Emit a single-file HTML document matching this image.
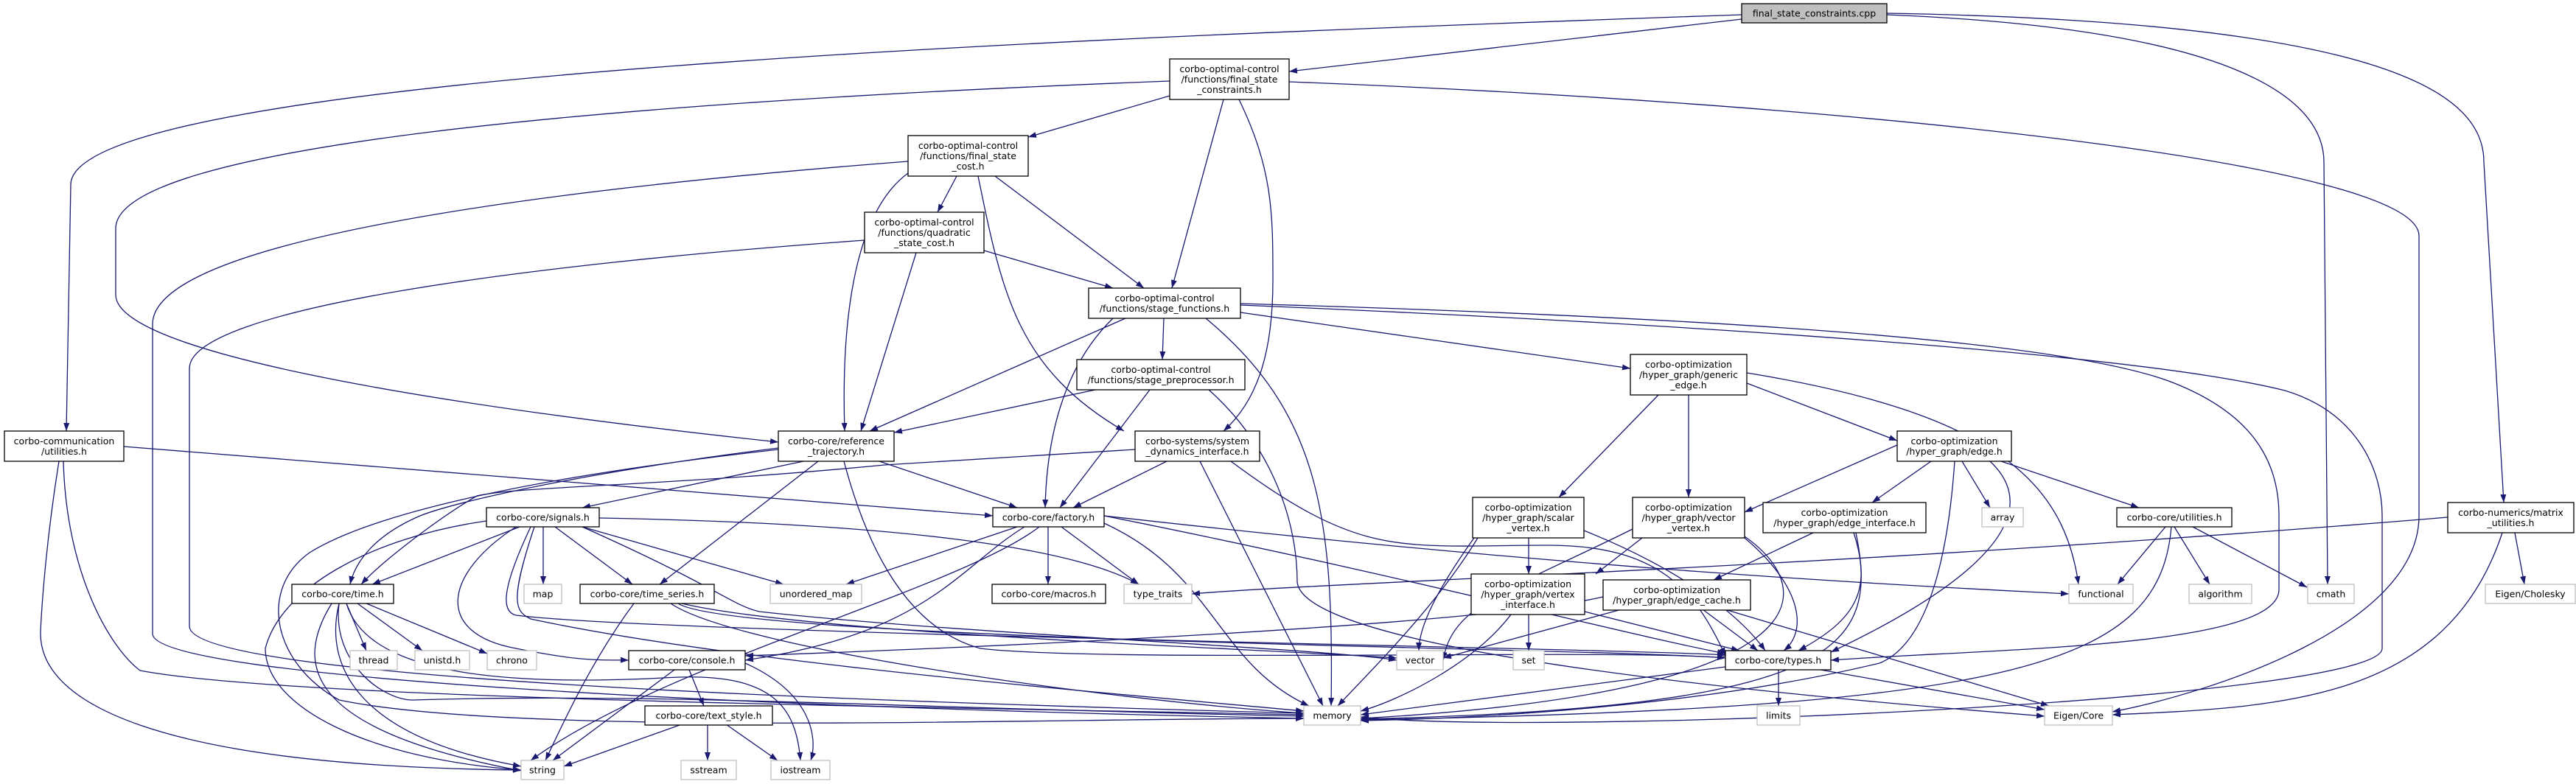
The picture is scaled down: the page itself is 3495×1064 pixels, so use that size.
<!DOCTYPE html>
<html><head><meta charset="utf-8"><style>
html,body{margin:0;padding:0;background:#fff;}
svg{display:block;}
text{font-family:"DejaVu Sans","Liberation Sans",sans-serif;font-size:12.5px;fill:#000;}
.e{fill:none;stroke:#191970;stroke-width:1.3;marker-end:url(#a);}
.n{fill:#fff;stroke:#000;stroke-width:1.3;}
.g{fill:#fff;stroke:#bfbfbf;stroke-width:1.3;}
.r{fill:#bfbfbf;stroke:#000;stroke-width:1.3;}
</style></head><body>
<svg width="3495" height="1064" viewBox="0 0 3495 1064" xmlns="http://www.w3.org/2000/svg">
<defs><marker id="a" markerWidth="12" markerHeight="10" refX="11" refY="5" orient="auto" markerUnits="userSpaceOnUse"><path d="M0,1 L11,5 L0,9 z" fill="#191970"/></marker></defs>
<g>
<path class="e" d="M2363,26 L1749,97"/>
<path class="e" d="M2363,20 C1500,50 100,100 96,250 L90,585"/>
<path class="e" d="M2560,20 C3050,40 3153,140 3153,220 L3158,793"/>
<path class="e" d="M2560,18 C3250,30 3370,130 3370,220 L3397,682"/>
<path class="e" d="M1587,130 L1395,186"/>
<path class="e" d="M1660,135 L1590,391"/>
<path class="e" d="M1681,135 C1727,230 1727,290 1727,380 C1727,470 1710,540 1660,585"/>
<path class="e" d="M1587,110 C800,140 157,200 157,310 L157,400 C157,470 500,540 1056,600"/>
<path class="e" d="M1749,111 C2500,140 3282,220 3282,320 L3282,700 C3282,850 3000,940 2866,966"/>
<path class="e" d="M1298,239 L1272,288"/>
<path class="e" d="M1350,239 L1552,391"/>
<path class="e" d="M1232,235 C1170,280 1140,400 1146,585"/>
<path class="e" d="M1232,219 C700,260 207,330 207,440 L207,860 C207,920 1000,960 1769,975"/>
<path class="e" d="M1327,239 C1360,400 1380,500 1525,585"/>
<path class="e" d="M1335,340 L1510,391"/>
<path class="e" d="M1243,343 L1168,585"/>
<path class="e" d="M1173,326 C700,360 257,420 257,500 L257,850 C257,920 1100,950 1769,968"/>
<path class="e" d="M1579,432 L1577,488"/>
<path class="e" d="M1527,432 L1180,585"/>
<path class="e" d="M1510,432 C1440,500 1420,600 1418,689"/>
<path class="e" d="M1683,424 L2212,500"/>
<path class="e" d="M1636,432 C1790,560 1810,700 1806,958"/>
<path class="e" d="M1683,412 C2300,430 2800,460 2950,520 C3050,560 3092,620 3092,700 L3092,800 C3092,880 2700,880 2484,896"/>
<path class="e" d="M1683,414 C2300,440 2900,480 3100,530 C3200,560 3232,640 3232,700 L3232,880 C3232,950 2100,1000 1846,973"/>
<path class="e" d="M1486,529 L1213,587"/>
<path class="e" d="M1560,529 L1438,689"/>
<path class="e" d="M1640,529 C1720,600 1760,700 1760,790 C1770,890 2500,950 2774,972"/>
<path class="e" d="M1583,626 L1456,689"/>
<path class="e" d="M1628,626 L1795,958"/>
<path class="e" d="M1670,626 C1850,760 1900,740 2100,740 C2250,740 2300,800 2341,890"/>
<path class="e" d="M1540,610 L1200,631 C900,660 700,660 647,673 C600,700 520,760 490,793"/>
<path class="e" d="M1090,626 L790,689"/>
<path class="e" d="M1056,608 C800,640 620,680 570,700 C500,730 480,770 475,793"/>
<path class="e" d="M1110,626 L895,793"/>
<path class="e" d="M1193,626 L1380,689"/>
<path class="e" d="M1145,626 C1170,720 1220,850 1330,880 C1500,900 2200,880 2341,893"/>
<path class="e" d="M1056,610 C700,650 500,700 420,750 C350,800 370,900 460,950 C700,1000 1400,975 1769,975"/>
<path class="e" d="M168,606 L1347,700"/>
<path class="e" d="M80,626 C60,750 55,850 55,860 C55,950 200,1040 707,1045"/>
<path class="e" d="M86,626 C90,780 150,880 190,910 C400,950 1300,960 1769,970"/>
<path class="e" d="M705,715 L505,793"/>
<path class="e" d="M737,715 L737,793"/>
<path class="e" d="M753,715 L858,793"/>
<path class="e" d="M790,715 L1063,793"/>
<path class="e" d="M813,703 C1200,710 1450,740 1545,793"/>
<path class="e" d="M660,707 C500,730 380,800 360,880 C360,960 500,1030 707,1045"/>
<path class="e" d="M700,715 C600,780 590,860 700,880 C800,900 820,895 853,896"/>
<path class="e" d="M720,715 C680,800 680,830 700,835 C900,860 2200,880 2341,889"/>
<path class="e" d="M725,715 C690,820 700,830 720,840 C1000,900 1500,940 1769,965"/>
<path class="e" d="M790,715 C980,800 990,820 1030,830 C1300,860 1800,880 1895,896"/>
<path class="e" d="M470,819 L497,883"/>
<path class="e" d="M485,819 L573,883"/>
<path class="e" d="M497,819 L661,887"/>
<path class="e" d="M450,819 C400,900 410,990 707,1046"/>
<path class="e" d="M460,819 C440,900 480,1000 707,1040"/>
<path class="e" d="M460,819 C450,900 520,950 560,950 C900,940 1200,960 1769,972"/>
<path class="e" d="M470,819 C500,920 700,930 900,920 C1050,910 1080,960 1086,1032"/>
<path class="e" d="M860,819 C800,900 760,990 740,1032"/>
<path class="e" d="M920,819 C1000,870 2200,880 2341,893"/>
<path class="e" d="M925,819 C1100,860 1700,880 1895,893"/>
<path class="e" d="M910,819 C1000,880 1500,950 1769,968"/>
<path class="e" d="M1380,715 L1148,793"/>
<path class="e" d="M1422,715 L1422,793"/>
<path class="e" d="M1440,715 L1545,793"/>
<path class="e" d="M1390,715 C1300,770 1260,860 1011,896"/>
<path class="e" d="M1410,715 C1300,800 900,900 720,1032"/>
<path class="e" d="M1498,710 C1650,780 1650,900 1776,958"/>
<path class="e" d="M1498,700 C1900,780 2200,860 2341,887"/>
<path class="e" d="M1498,700 C2200,780 2700,800 2807,806"/>
<path class="e" d="M935,909 L955,958"/>
<path class="e" d="M915,909 L750,1032"/>
<path class="e" d="M1011,900 C1100,940 1110,1000 1100,1032"/>
<path class="e" d="M925,983 L765,1040"/>
<path class="e" d="M960,983 L960,1032"/>
<path class="e" d="M985,983 L1055,1032"/>
<path class="e" d="M2074,730 L2074,779"/>
<path class="e" d="M2000,730 C1950,800 1925,850 1925,883"/>
<path class="e" d="M2005,730 C1950,820 1870,900 1815,958"/>
<path class="e" d="M2149,720 C2250,760 2350,820 2395,883"/>
<path class="e" d="M2228,730 L2165,779"/>
<path class="e" d="M2215,718 C2050,800 1970,820 1958,896"/>
<path class="e" d="M2367,730 C2450,800 2450,860 2420,883"/>
<path class="e" d="M2367,728 C2470,800 2480,940 1846,975"/>
<path class="e" d="M2074,834 L2074,883"/>
<path class="e" d="M2050,834 C2000,900 1900,950 1846,965"/>
<path class="e" d="M2150,830 L2360,883"/>
<path class="e" d="M2200,827 L1958,893"/>
<path class="e" d="M2310,827 L2385,883"/>
<path class="e" d="M2340,827 L2780,958"/>
<path class="e" d="M2175,810 C2000,850 1300,880 1011,890"/>
<path class="e" d="M2460,723 L2325,787"/>
<path class="e" d="M2515,723 C2540,800 2520,840 2440,883"/>
<path class="e" d="M2518,723 C2550,880 2500,960 1846,976"/>
<path class="e" d="M2250,536 L2115,675"/>
<path class="e" d="M2291,536 L2291,675"/>
<path class="e" d="M2370,520 L2574,598"/>
<path class="e" d="M2370,506 C2700,560 2800,650 2820,793"/>
<path class="e" d="M2574,604 L2367,695"/>
<path class="e" d="M2620,626 L2540,682"/>
<path class="e" d="M2662,626 L2700,689"/>
<path class="e" d="M2715,626 L2902,689"/>
<path class="e" d="M2700,626 C2800,720 2600,830 2484,885"/>
<path class="e" d="M2652,626 C2640,800 2600,880 2550,900 C2300,960 2000,975 1846,978"/>
<path class="e" d="M2938,715 L2873,793"/>
<path class="e" d="M2950,715 L2998,793"/>
<path class="e" d="M2975,715 L3130,797"/>
<path class="e" d="M2946,715 C2930,900 2750,960 1846,977"/>
<path class="e" d="M3321,702 C2500,770 1800,790 1617,806"/>
<path class="e" d="M3412,723 L3425,793"/>
<path class="e" d="M3395,723 C3320,950 3100,960 2866,970"/>
<path class="e" d="M2341,905 L1846,970"/>
<path class="e" d="M2413,909 L2413,958"/>
<path class="e" d="M2470,909 L2774,963"/>
</g>
<g text-anchor="middle">
<rect class="r" x="2363" y="5" width="197" height="26"/><text x="2461.5" y="22.5">final_state_constraints.cpp</text>
<rect class="n" x="1587" y="80" width="162" height="55"/><text x="1668" y="98">corbo-optimal-control</text><text x="1668" y="112">/functions/final_state</text><text x="1668" y="126">_constraints.h</text>
<rect class="n" x="1232" y="184" width="163" height="55"/><text x="1313.5" y="202">corbo-optimal-control</text><text x="1313.5" y="216">/functions/final_state</text><text x="1313.5" y="230">_cost.h</text>
<rect class="n" x="1173" y="288" width="162" height="55"/><text x="1254" y="306">corbo-optimal-control</text><text x="1254" y="320">/functions/quadratic</text><text x="1254" y="334">_state_cost.h</text>
<rect class="n" x="1477" y="391" width="206" height="41"/><text x="1580" y="409">corbo-optimal-control</text><text x="1580" y="423">/functions/stage_functions.h</text>
<rect class="n" x="1461" y="488" width="228" height="41"/><text x="1575" y="506">corbo-optimal-control</text><text x="1575" y="520">/functions/stage_preprocessor.h</text>
<rect class="n" x="2212" y="481" width="158" height="55"/><text x="2291" y="499">corbo-optimization</text><text x="2291" y="513">/hyper_graph/generic</text><text x="2291" y="527">_edge.h</text>
<rect class="n" x="6" y="585" width="162" height="41"/><text x="87" y="603">corbo-communication</text><text x="87" y="617">/utilities.h</text>
<rect class="n" x="1056" y="585" width="157" height="41"/><text x="1134.5" y="603">corbo-core/reference</text><text x="1134.5" y="617">_trajectory.h</text>
<rect class="n" x="1540" y="585" width="169" height="41"/><text x="1624.5" y="603">corbo-systems/system</text><text x="1624.5" y="617">_dynamics_interface.h</text>
<rect class="n" x="2574" y="585" width="155" height="41"/><text x="2651.5" y="603">corbo-optimization</text><text x="2651.5" y="617">/hyper_graph/edge.h</text>
<rect class="n" x="660" y="689" width="153" height="26"/><text x="736.5" y="706.5">corbo-core/signals.h</text>
<rect class="n" x="1347" y="689" width="151" height="26"/><text x="1422.5" y="706.5">corbo-core/factory.h</text>
<rect class="n" x="1998" y="675" width="151" height="55"/><text x="2073.5" y="693">corbo-optimization</text><text x="2073.5" y="707">/hyper_graph/scalar</text><text x="2073.5" y="721">_vertex.h</text>
<rect class="n" x="2215" y="675" width="152" height="55"/><text x="2291" y="693">corbo-optimization</text><text x="2291" y="707">/hyper_graph/vector</text><text x="2291" y="721">_vertex.h</text>
<rect class="n" x="2392" y="682" width="221" height="41"/><text x="2502.5" y="700">corbo-optimization</text><text x="2502.5" y="714">/hyper_graph/edge_interface.h</text>
<rect class="g" x="2689" y="689" width="56" height="26"/><text x="2717" y="706.5">array</text>
<rect class="n" x="2872" y="689" width="156" height="26"/><text x="2950" y="706.5">corbo-core/utilities.h</text>
<rect class="n" x="3321" y="682" width="171" height="41"/><text x="3406.5" y="700">corbo-numerics/matrix</text><text x="3406.5" y="714">_utilities.h</text>
<rect class="n" x="396" y="793" width="138" height="26"/><text x="465" y="810.5">corbo-core/time.h</text>
<rect class="g" x="711" y="793" width="51" height="26"/><text x="736.5" y="810.5">map</text>
<rect class="n" x="787" y="793" width="182" height="26"/><text x="878" y="810.5">corbo-core/time_series.h</text>
<rect class="g" x="1045" y="793" width="124" height="26"/><text x="1107" y="810.5">unordered_map</text>
<rect class="n" x="1346" y="793" width="154" height="26"/><text x="1423" y="810.5">corbo-core/macros.h</text>
<rect class="g" x="1525" y="793" width="92" height="26"/><text x="1571" y="810.5">type_traits</text>
<rect class="n" x="1996" y="779" width="154" height="55"/><text x="2073" y="797">corbo-optimization</text><text x="2073" y="811">/hyper_graph/vertex</text><text x="2073" y="825">_interface.h</text>
<rect class="n" x="2175" y="787" width="200" height="41"/><text x="2275" y="805">corbo-optimization</text><text x="2275" y="819">/hyper_graph/edge_cache.h</text>
<rect class="g" x="2807" y="793" width="87" height="26"/><text x="2850.5" y="810.5">functional</text>
<rect class="g" x="2970" y="793" width="85" height="26"/><text x="3012.5" y="810.5">algorithm</text>
<rect class="g" x="3131" y="793" width="63" height="26"/><text x="3162.5" y="810.5">cmath</text>
<rect class="g" x="3372" y="793" width="122" height="26"/><text x="3433" y="810.5">Eigen/Cholesky</text>
<rect class="g" x="475" y="883" width="64" height="26"/><text x="507" y="900.5">thread</text>
<rect class="g" x="563" y="883" width="74" height="26"/><text x="600" y="900.5">unistd.h</text>
<rect class="g" x="661" y="883" width="67" height="26"/><text x="694.5" y="900.5">chrono</text>
<rect class="n" x="853" y="883" width="158" height="26"/><text x="932" y="900.5">corbo-core/console.h</text>
<rect class="g" x="1895" y="883" width="63" height="26"/><text x="1926.5" y="900.5">vector</text>
<rect class="g" x="2053" y="883" width="42" height="26"/><text x="2074" y="900.5">set</text>
<rect class="n" x="2341" y="883" width="143" height="26"/><text x="2412.5" y="900.5">corbo-core/types.h</text>
<rect class="n" x="875" y="958" width="173" height="26"/><text x="961.5" y="975.5">corbo-core/text_style.h</text>
<rect class="g" x="1769" y="958" width="77" height="26"/><text x="1807.5" y="975.5">memory</text>
<rect class="g" x="2384" y="958" width="58" height="26"/><text x="2413" y="975.5">limits</text>
<rect class="g" x="2774" y="958" width="92" height="26"/><text x="2820" y="975.5">Eigen/Core</text>
<rect class="g" x="707" y="1032" width="58" height="26"/><text x="736" y="1049.5">string</text>
<rect class="g" x="924" y="1032" width="75" height="26"/><text x="961.5" y="1049.5">sstream</text>
<rect class="g" x="1046" y="1032" width="80" height="26"/><text x="1086" y="1049.5">iostream</text>
</g>
</svg>
</body></html>
